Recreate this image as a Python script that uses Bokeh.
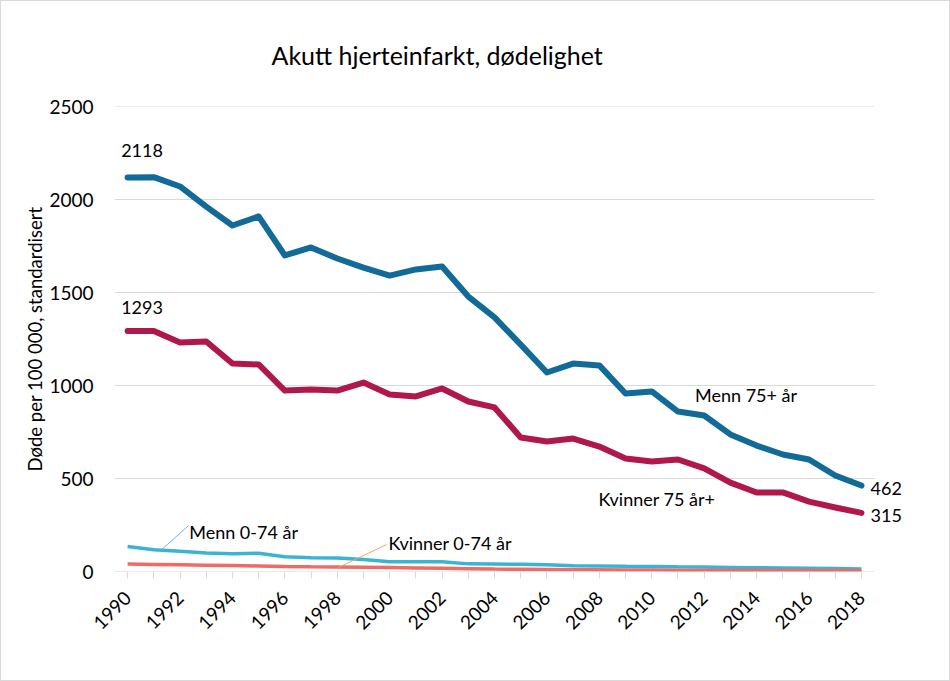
import math
from bokeh.plotting import figure
from bokeh.models import Label, FixedTicker
from bokeh.embed import file_html
from bokeh.resources import INLINE

years = list(range(1990, 2019))
menn_75 = [2118, 2120, 2070, 1962, 1860, 1909, 1699, 1742, 1683, 1634, 1591, 1624, 1640,
           1478, 1366, 1220, 1070, 1118, 1108, 957, 968, 860, 839, 737, 677, 629, 602, 516, 462]
kvinner_75 = [1293, 1293, 1231, 1237, 1118, 1113, 973, 978, 973, 1016, 952, 941, 984,
              914, 882, 720, 699, 715, 672, 608, 591, 602, 554, 478, 425, 425, 376, 344, 315]
menn_074 = [134, 117, 109, 100, 95, 98, 79, 74, 72, 65, 52, 52, 52, 41, 40, 39, 36, 31,
            30, 28, 27, 25, 24, 22, 20, 19, 18, 16, 14]
kvinner_074 = [40, 38, 36, 34, 32, 30, 27, 25, 24, 23, 21, 19, 17, 15, 13, 12, 11, 10,
               9, 8, 8, 7, 7, 6, 6, 5, 5, 5, 4]
y_ticks = [0, 500, 1000, 1500, 2000, 2500]
x_label_years = list(range(1990, 2019, 2))

FONT = "Lato"
X0, X1 = 1989.5, 2018.5

p = figure(width=950, height=681, output_backend="svg", toolbar_location=None,
           x_range=(X0, 2019.91), y_range=(0, 2500),
           min_border_left=113, min_border_right=40, min_border_top=105, min_border_bottom=111)
p.outline_line_color = None
p.background_fill_color = "white"
p.styles = {"border": "1px solid #d9d9d9"}

p.title.text = "Akutt hjerteinfarkt, dødelighet"
p.title.text_font = FONT
p.title.text_font_size = "25px"
p.title.text_font_style = "normal"
p.title.text_color = "#000000"
p.title.align = "left"
p.title.offset = 157
p.title.standoff = 73

# axes
p.yaxis.ticker = FixedTicker(ticks=y_ticks)
p.yaxis.axis_line_color = None
p.yaxis.major_tick_line_color = None
p.yaxis.minor_tick_line_color = None
p.yaxis.major_label_text_font = FONT
p.yaxis.major_label_text_font_size = "19px"
p.yaxis.major_label_text_color = "#000000"
p.yaxis.major_label_standoff = 15
p.yaxis.axis_label = "Døde per 100 000, standardisert"
p.yaxis.axis_label_text_font = FONT
p.yaxis.axis_label_text_font_style = "normal"
p.yaxis.axis_label_text_font_size = "18.5px"
p.yaxis.axis_label_text_color = "#000000"
p.yaxis.axis_label_standoff = 0

p.xaxis.ticker = FixedTicker(ticks=years)
p.xaxis.major_label_overrides = {y: (str(y) if y in x_label_years else "") for y in years}
p.xaxis.axis_line_color = None
p.xaxis.major_tick_line_color = "#d9d9d9"
p.xaxis.major_tick_out = 7
p.xaxis.major_tick_in = 0
p.xaxis.minor_tick_line_color = None
p.xaxis.major_label_orientation = math.pi / 4
p.xaxis.major_label_text_font = FONT
p.xaxis.major_label_text_font_size = "19px"
p.xaxis.major_label_text_color = "#000000"
p.xaxis.major_label_standoff = 16

p.xgrid.grid_line_color = None
p.ygrid.grid_line_color = None
# gridlines (and axis line at 0) limited to the plotted span
p.segment(x0=[X0] * len(y_ticks), y0=y_ticks, x1=[X1] * len(y_ticks), y1=y_ticks,
          line_color="#d9d9d9", line_width=1)

# lines
p.line(years, menn_074, line_color="#3BB4D3", line_width=3.5)
p.line(years, kvinner_074, line_color="#EE6B66", line_width=3.5)
p.line(years, menn_75, line_color="#116A98", line_width=6, line_join="round", line_cap="round")
p.line(years, kvinner_75, line_color="#B0174A", line_width=6, line_join="round", line_cap="round")

# leader lines
p.segment(x0=[1991.3], y0=[118], x1=[1992.33], y1=[247], line_color="#7FB2DE", line_width=1)
p.segment(x0=[1998.05], y0=[22], x1=[1999.88], y1=[145], line_color="#F4A460", line_width=1)

def lab(x, y, t, align="left", base="middle", size="18px"):
    p.add_layout(Label(x=x, y=y, text=t, text_font=FONT, text_font_size=size,
                       text_align=align, text_baseline=base, text_color="#000000"))

lab(1990.55, 2265, "2118", align="center")
lab(1990.55, 1420, "1293", align="center")
lab(2011.65, 950, "Menn 75+ år")
lab(2007.97, 390, "Kvinner  75 år+")
lab(2018.35, 448, "462")
lab(2018.35, 303, "315")
lab(1992.35, 215, "Menn 0-74 år")
lab(1999.95, 155, "Kvinner 0-74 år")

open("out.html", "w").write(file_html(p, INLINE))
